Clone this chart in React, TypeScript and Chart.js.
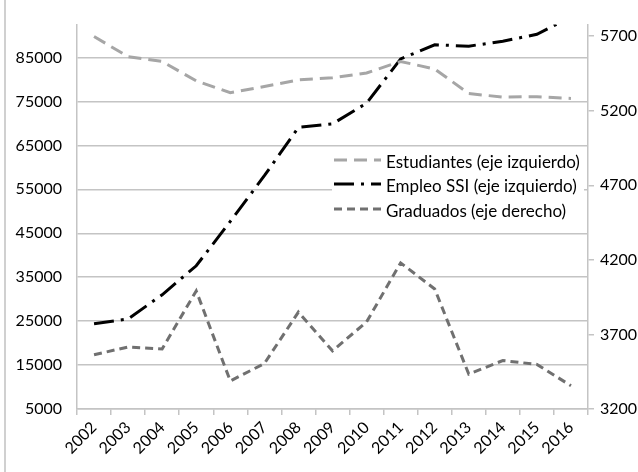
import React, { useEffect, useRef } from "react";
import { Chart, registerables } from "chart.js";

Chart.register(...registerables);

const years = ["2002","2003","2004","2005","2006","2007","2008","2009","2010","2011","2012","2013","2014","2015","2016"];
const estudiantes = [89800, 85200, 84100, 79700, 77000, 78400, 79900, 80400, 81500, 84100, 82400, 76800, 76000, 76100, 75700];
const empleoSSI = [24400, 25500, 31000, 37600, 47700, 58100, 69100, 69900, 74600, 84700, 87900, 87600, 88700, 90300, 94200];
const graduados = [3564, 3616, 3603, 3992, 3388, 3505, 3850, 3590, 3784, 4180, 4005, 3434, 3525, 3499, 3356];
const leftTicks = [5000, 15000, 25000, 35000, 45000, 55000, 65000, 75000, 85000];
const rightTicks = [3200, 3700, 4200, 4700, 5200, 5700];
const legendLabels = ["Estudiantes (eje izquierdo)", "Empleo SSI (eje izquierdo)", "Graduados (eje derecho)"];

const FONT = "Lato, 'Open Sans', sans-serif";
const GRID = "#c4c4c4";

export default function App() {
  const ref = useRef<HTMLCanvasElement>(null);
  useEffect(() => {
    document.body.style.margin = "0";
    const styles = [
      { color: "#a6a6a6", dash: [13, 7] },
      { color: "#000000", dash: [20, 7, 3, 7] },
      { color: "#707070", dash: [8, 5] },
    ];
    const extras = {
      id: "extras",
      afterDraw(chart: any) {
        const ctx = chart.ctx;
        ctx.save();
        ctx.strokeStyle = "#d0d0d0";
        ctx.lineWidth = 2;
        ctx.beginPath();
        ctx.moveTo(5, 0);
        ctx.lineTo(5, 472);
        ctx.stroke();
        ctx.fillStyle = "#ffffff";
        ctx.fillRect(332, 150, 252, 72);
        const rows = [160, 184, 209];
        legendLabels.forEach((lab, i) => {
          ctx.strokeStyle = styles[i].color;
          ctx.lineWidth = 3;
          ctx.setLineDash(styles[i].dash);
          ctx.beginPath();
          ctx.moveTo(334, rows[i]);
          ctx.lineTo(381, rows[i]);
          ctx.stroke();
          ctx.setLineDash([]);
          ctx.fillStyle = "#000";
          ctx.font = "17px " + FONT;
          ctx.textBaseline = "middle";
          ctx.textAlign = "left";
          ctx.fillText(lab, 386, rows[i] + 3);
        });
        ctx.restore();
      },
    };
    const plain = (v: any) => String(v);
    const chart = new Chart(ref.current!, {
      type: "line",
      data: {
        labels: years,
        datasets: [
          { label: legendLabels[0], data: estudiantes, yAxisID: "y", borderColor: styles[0].color, borderWidth: 3, borderDash: styles[0].dash, pointRadius: 0, tension: 0, fill: false },
          { label: legendLabels[1], data: empleoSSI, yAxisID: "y", borderColor: styles[1].color, borderWidth: 3, borderDash: styles[1].dash, pointRadius: 0, tension: 0, fill: false },
          { label: legendLabels[2], data: graduados, yAxisID: "y1", borderColor: styles[2].color, borderWidth: 3, borderDash: styles[2].dash, pointRadius: 0, tension: 0, fill: false },
        ],
      },
      options: {
        animation: false,
        responsive: false,
        layout: { padding: { top: 12, left: 0, right: 0, bottom: 0 } },
        plugins: { legend: { display: false }, tooltip: { enabled: false } },
        scales: {
          x: {
            offset: true,
            grid: { offset: true, drawOnChartArea: false, drawTicks: true, tickLength: 6, color: GRID, lineWidth: 1.5 },
            border: { display: true, color: GRID, width: 1.5 },
            ticks: { color: "#000", font: { family: FONT, size: 16 }, minRotation: 45, maxRotation: 45, autoSkip: false, padding: 3 },
            afterFit: (s: any) => { s.height = 63; },
          },
          y: {
            position: "left",
            min: 5000,
            max: 92500,
            afterBuildTicks: (s: any) => { s.ticks = leftTicks.map((v) => ({ value: v })); },
            grid: { color: GRID, lineWidth: 1.5, drawTicks: false },
            border: { display: true, color: GRID, width: 1.5 },
            ticks: { color: "#000", font: { family: FONT, size: 16 }, padding: 15, callback: plain },
            afterFit: (s: any) => { s.width = 77; },
          },
          y1: {
            position: "right",
            min: 3200,
            max: 5778,
            afterBuildTicks: (s: any) => { s.ticks = rightTicks.map((v) => ({ value: v })); },
            grid: { drawOnChartArea: false, drawTicks: true, tickLength: 6, color: GRID, lineWidth: 1.5 },
            border: { display: true, color: GRID, width: 1.5 },
            ticks: { color: "#000", font: { family: FONT, size: 16 }, padding: 6, callback: plain },
            afterFit: (s: any) => { s.width = 50; },
          },
        },
      },
      plugins: [extras],
    });
    return () => chart.destroy();
  }, []);
  return (
    <div style={{ position: "relative", width: 638, height: 472, background: "#fff" }}>
      <canvas ref={ref} width={638} height={472} />
    </div>
  );
}
